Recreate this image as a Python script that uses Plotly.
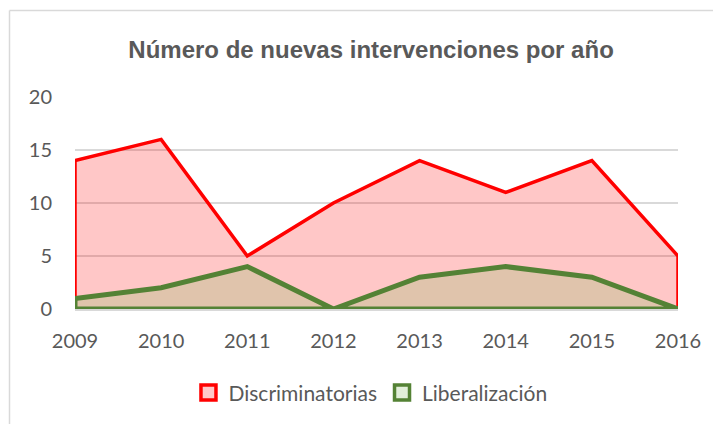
import plotly.graph_objects as go

years = ["2009", "2010", "2011", "2012", "2013", "2014", "2015", "2016"]
discriminatorias = [14, 16, 5, 10, 14, 11, 14, 5]
liberalizacion = [1, 2, 4, 0, 3, 4, 3, 0]

def polygon(xs, ys):
    px = list(xs) + list(reversed(xs)) + [xs[0]]
    py = list(ys) + [0] * len(ys) + [ys[0]]
    return px, py

fig = go.Figure()
x1, y1 = polygon(years, discriminatorias)
fig.add_trace(go.Scatter(x=x1, y=y1, name="Discriminatorias", mode="lines",
                         fill="toself", fillcolor="rgba(255,0,0,0.22)", showlegend=False,
                         line=dict(color="#FF0000", width=3.5), hoverinfo="skip"))
x2, y2 = polygon(years, liberalizacion)
fig.add_trace(go.Scatter(x=x2, y=y2, name="Liberalización", mode="lines",
                         fill="toself", fillcolor="rgba(152,189,109,0.3)", showlegend=False,
                         line=dict(color="#548235", width=5), hoverinfo="skip"))
# legend entries (square swatches)
fig.add_trace(go.Scatter(x=[None], y=[None], name="Discriminatorias", mode="markers",
                         marker=dict(symbol="square", size=15, color="#FFC8C8",
                                     line=dict(color="#FF0000", width=3.5))))
fig.add_trace(go.Scatter(x=[None], y=[None], name="Liberalización", mode="markers",
                         marker=dict(symbol="square", size=15, color="#E2EFDA",
                                     line=dict(color="#548235", width=3.5))))

fnt = "Lato, Carlito, 'Open Sans', sans-serif"
fig.update_layout(
    width=721, height=424,
    margin=dict(l=67, r=51, t=89, b=123),
    paper_bgcolor="white", plot_bgcolor="white",
    title=dict(text="<b>Número de nuevas intervenciones por año</b>",
               font=dict(family="'Liberation Sans Narrow', Arial, sans-serif", size=24, color="#595959"),
               x=0.491, xref="paper", xanchor="center", y=0.901, yref="container", yanchor="middle"),
    showlegend=True,
    legend=dict(orientation="h", x=0.49, xanchor="center", y=-0.396, yanchor="middle",
                font=dict(family=fnt, size=21, color="#595959"), itemwidth=30,
                bgcolor="rgba(0,0,0,0)"),
    xaxis=dict(type="category", categoryorder="array", categoryarray=years,
               range=[0, 7], showgrid=False, zeroline=False,
               showline=True, linecolor="#D9D9D9", linewidth=1.5,
               ticks="", ticklabelstandoff=13,
               tickfont=dict(family=fnt, size=20, color="#595959")),
    yaxis=dict(range=[0, 20], tickvals=[0, 5, 10, 15, 20], showgrid=True,
               gridcolor="#D9D9D9", gridwidth=1.5, zeroline=False,
               ticks="", ticklabelstandoff=22,
               tickfont=dict(family=fnt, size=20, color="#595959")),
    shapes=[
        dict(type="line", xref="paper", yref="paper", x0=(1.5 - 67) / 603, x1=1.2,
             y0=(301 - 2.5) / 212, y1=(301 - 2.5) / 212, line=dict(color="#D9D9D9", width=1.5)),
        dict(type="line", xref="paper", yref="paper", x0=(1.5 - 67) / 603, x1=(1.5 - 67) / 603,
             y0=(301 - 2.5) / 212, y1=-1, line=dict(color="#D9D9D9", width=1.5)),
    ],
)

fig.write_html("out.html")
